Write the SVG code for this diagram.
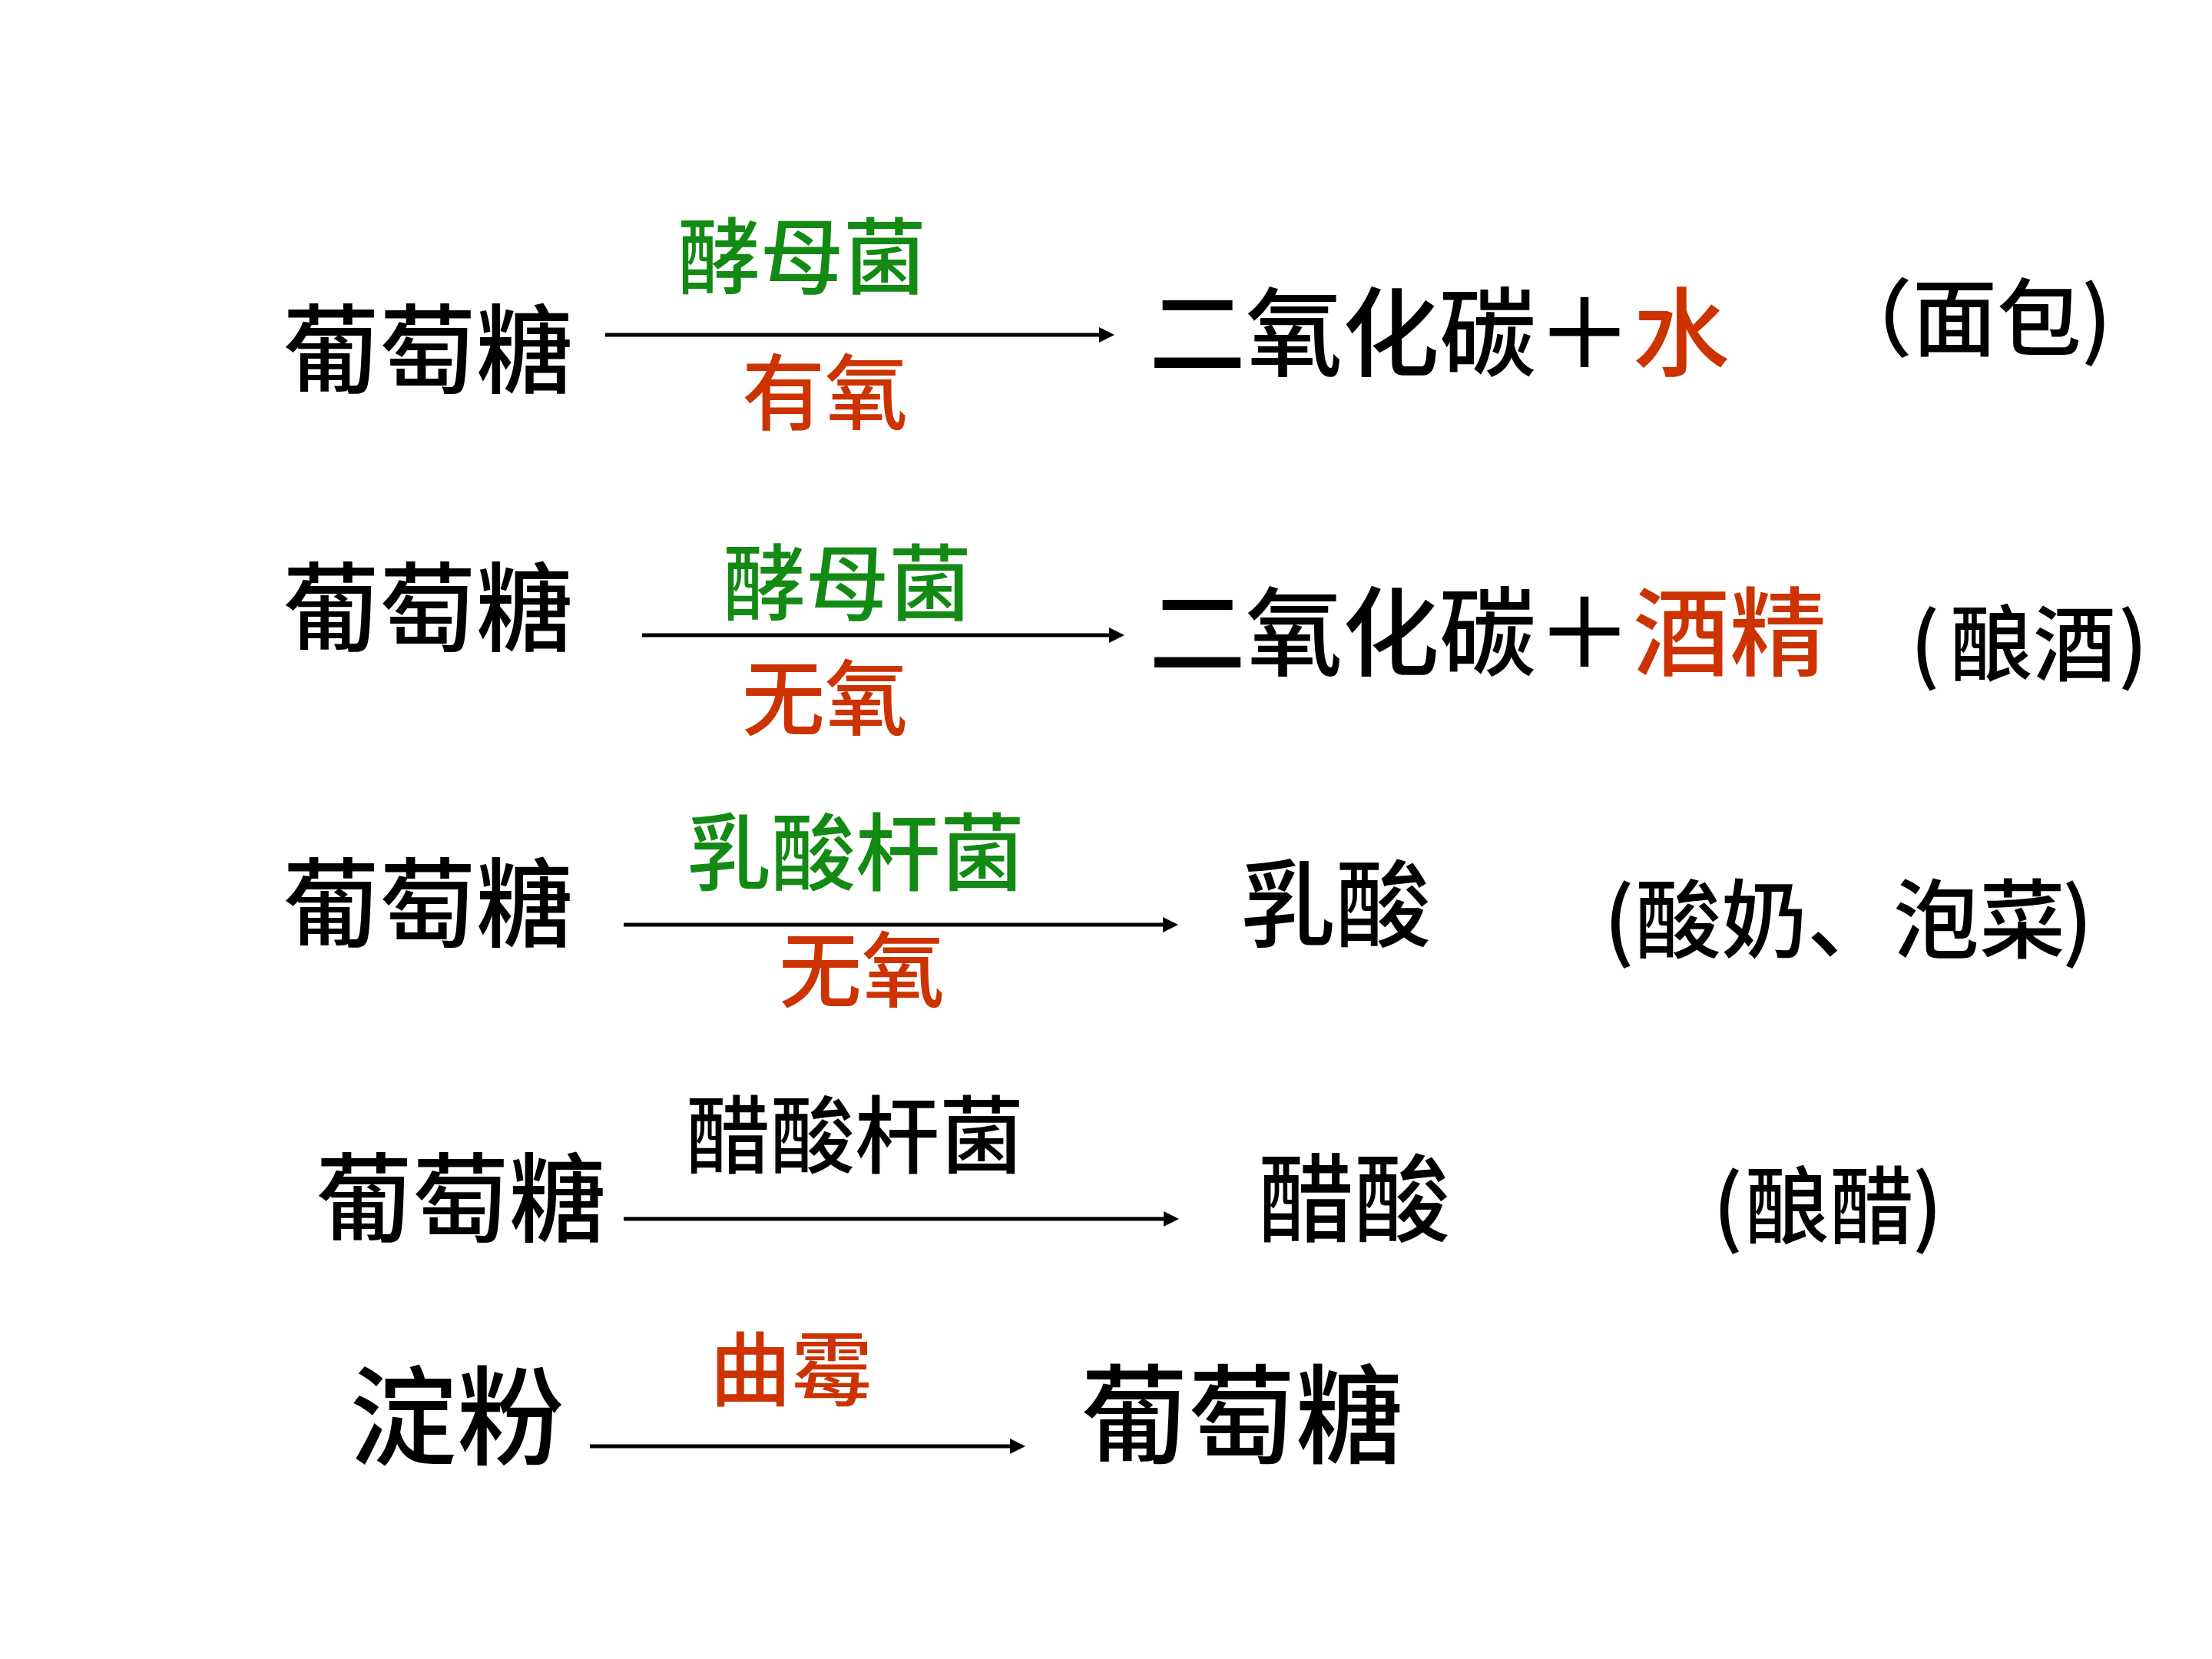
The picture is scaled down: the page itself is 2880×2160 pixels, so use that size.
<svg xmlns="http://www.w3.org/2000/svg" width="2880" height="2160" viewBox="0 0 2880 2160">
<defs>
<style>
text{font-family:"Noto Sans CJK SC","Noto Sans CJK TC",sans-serif;font-weight:500;fill:#000}
.g{fill:#138A13}
.r{fill:#CC3300}
.ln{stroke:#000;stroke-width:5;fill:none;marker-end:url(#ah)}
</style>
<marker id="ah" viewBox="0 0 10 10" refX="0" refY="5" markerWidth="4" markerHeight="4" orient="auto" markerUnits="strokeWidth">
<path d="M0,0 L10,5 L0,10 z" fill="#000"/>
</marker>
</defs>
<rect width="2880" height="2160" fill="#fff"/>
<g id="connectors">
<line class="ln" x1="788" y1="436" x2="1431" y2="436"/>
<line class="ln" x1="836" y1="827" x2="1444" y2="827"/>
<line class="ln" x1="812" y1="1204" x2="1514" y2="1204"/>
<line class="ln" x1="812" y1="1587" x2="1515" y2="1587"/>
<line class="ln" x1="768" y1="1883" x2="1315" y2="1883"/>
</g>
<g id="row1">
<g id="r1-src"><text x="368" y="502" font-size="126">葡萄糖</text></g>
<g id="r1-top"><text class="g" x="882" y="374" font-size="108">酵母菌</text></g>
<g id="r1-bot"><text class="r" x="966" y="551" font-size="108">有氧</text></g>
<g id="r1-prod"><text x="1496" y="480" font-size="126">二氧化碳＋<tspan class="r">水</tspan></text></g>
<g id="r1-use"><text x="2380" y="455" font-size="110">（面包)</text></g>
</g>
<g id="row2">
<g id="r2-src"><text x="368" y="838" font-size="126">葡萄糖</text></g>
<g id="r2-top"><text class="g" x="941" y="799" font-size="108">酵母菌</text></g>
<g id="r2-bot"><text class="r" x="966" y="949" font-size="108">无氧</text></g>
<g id="r2-prod"><text x="1496" y="870" font-size="126">二氧化碳＋<tspan class="r">酒精</tspan></text></g>
<g id="r2-use"><text x="2487" y="878" font-size="108">(<tspan x="2539">酿酒</tspan><tspan x="2758">)</tspan></text></g>
</g>
<g id="row3">
<g id="r3-src"><text x="368" y="1223" font-size="126">葡萄糖</text></g>
<g id="r3-top"><text class="g" x="894" y="1151" font-size="110">乳酸杆菌</text></g>
<g id="r3-bot"><text class="r" x="1014" y="1303" font-size="108">无氧</text></g>
<g id="r3-prod"><text x="1615" y="1223" font-size="124">乳酸</text></g>
<g id="r3-use"><text x="2088" y="1239" font-size="112">(<tspan x="2129">酸奶、泡菜</tspan><tspan x="2685">)</tspan></text></g>
</g>
<g id="row4">
<g id="r4-src"><text x="411" y="1607" font-size="126">葡萄糖</text></g>
<g id="r4-top"><text x="893" y="1519" font-size="110">醋酸杆菌</text></g>
<g id="r4-prod"><text x="1638" y="1607" font-size="125">醋酸</text></g>
<g id="r4-use"><text x="2230" y="1611" font-size="110">(<tspan x="2272">酿醋</tspan><tspan x="2490">)</tspan></text></g>
</g>
<g id="row5">
<g id="r5-src"><text x="455" y="1896" font-size="140">淀粉</text></g>
<g id="r5-top"><text class="r" x="924" y="1822" font-size="106">曲霉</text></g>
<g id="r5-prod"><text x="1407" y="1894" font-size="140">葡萄糖</text></g>
</g>
</svg>
